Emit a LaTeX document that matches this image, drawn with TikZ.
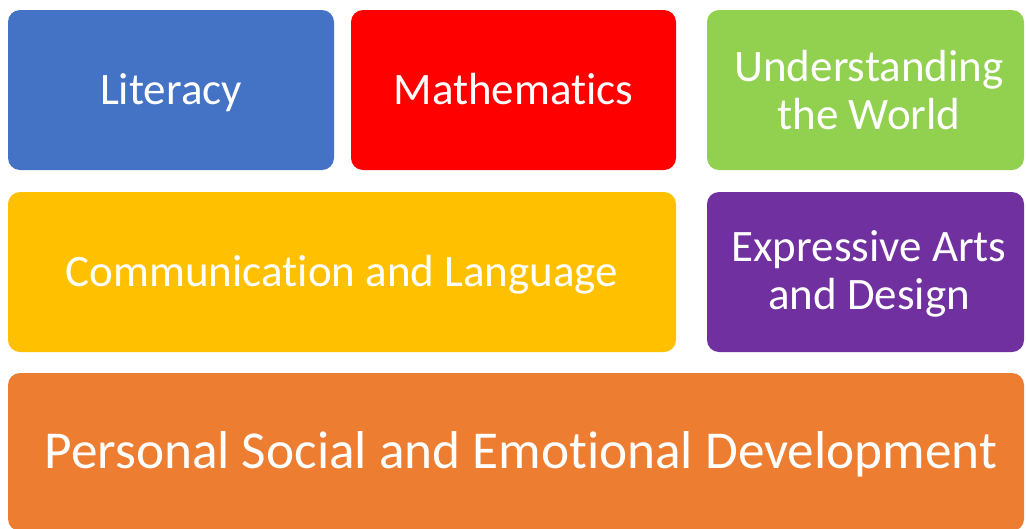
\documentclass[tikz,border=0pt]{standalone}
\usepackage{fontspec}
\setmainfont{Carlito}[Ligatures={NoCommon}]
\definecolor{cblue}{HTML}{4472C4}
\definecolor{cred}{HTML}{FF0000}
\definecolor{cgreen}{HTML}{92D050}
\definecolor{cyellow}{HTML}{FFC000}
\definecolor{cpurple}{HTML}{7030A0}
\definecolor{corange}{HTML}{ED7D31}
\tikzset{
  area/.style={rounded corners=12pt, draw=none},
  lbl/.style={text=white, font=\fontsize{45}{48}\selectfont, align=center, inner sep=0pt, anchor=base},
  biglbl/.style={text=white, font=\fontsize{53.3}{56}\selectfont, align=center, inner sep=0pt, anchor=base},
}
\begin{document}
\begin{tikzpicture}[x=1pt,y=-1pt]
\useasboundingbox (0,0) rectangle (1026,528);
\begin{scope}
\clip (0,0) rectangle (1026,528);
\fill[area, cblue] (8,10) rectangle (334,170);
\fill[area, cred] (351,10) rectangle (676,170);
\fill[area, cgreen] (707,10) rectangle (1024,170);
\fill[area, cyellow] (8,192) rectangle (676,352);
\fill[area, cpurple] (707,192) rectangle (1024,352);
\fill[area, corange] (8,373) rectangle (1024,531);
\end{scope}
\node[lbl] (lit) at (171,104) {Literacy};
\node[lbl] (math) at (513.5,104) {Mathematics};
\node[lbl] (utw) at (869,81) {Understanding};
\node[lbl] (utw2) at (869,129) {the World};
\node[lbl] (cl) at (342,286) {Communication and Language};
\node[lbl] (ead) at (869,261) {Expressive Arts};
\node[lbl] (ead2) at (869,309) {and Design};
\node[biglbl] (psed) at (521,468) {Personal Social and Emotional Development};
\end{tikzpicture}
\end{document}
